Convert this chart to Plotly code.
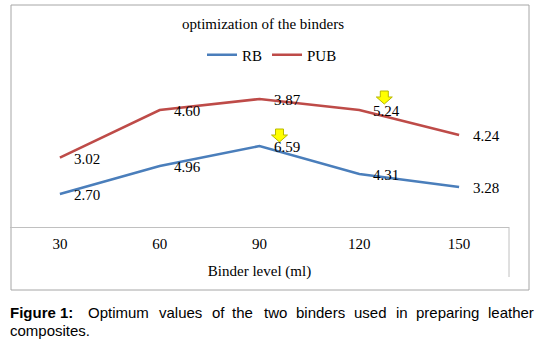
import plotly.graph_objects as go

# ---- data ----
binder_level = [30, 60, 90, 120, 150]
rb_values = [1.65, 3.05, 4.05, 2.65, 2.0]
pub_values = [3.47, 5.85, 6.4, 5.85, 4.6]
rb_labels = ["2.70", "4.96", "6.59", "4.31", "3.28"]
pub_labels = ["3.02", "4.60", "3.87", "5.24", "4.24"]
rb_optimum_index = 2
pub_optimum_index = 3

W, H = 537, 342
PLOT_L, PLOT_R, PLOT_T, PLOT_B = 10, 509, 70, 227   # reference pixels
ML, MR, MT, MB = PLOT_L, W - PLOT_R, PLOT_T, H - PLOT_B
PW, PH = W - ML - MR, H - MT - MB

def px(x):
    return (x - PLOT_L) / PW

def py(y):
    return (PLOT_B - y) / PH

SERIF = "Times New Roman, Liberation Serif, serif"
SANS = "Arial, Liberation Sans, sans-serif"
BLUE = "#4a7ebb"
RED = "#be4b48"

fig = go.Figure()
fig.add_trace(go.Scatter(x=binder_level, y=rb_values, mode="lines", name="RB",
                         line=dict(color=BLUE, width=2.6)))
fig.add_trace(go.Scatter(x=binder_level, y=pub_values, mode="lines", name="PUB",
                         line=dict(color=RED, width=2.6)))

annotations = []
for xs, ys, labs in ((binder_level, rb_values, rb_labels), (binder_level, pub_values, pub_labels)):
    for xv, yv, t in zip(xs, ys, labs):
        annotations.append(dict(x=xv, y=yv, text=t, showarrow=False, xanchor="left",
                                yanchor="middle", xshift=12, yshift=-1,
                                font=dict(family=SERIF, size=15, color="black")))

# caption (justified first line, word by word)
line1 = [("<b>Figure</b>", 8), ("<b>1:</b>", 58), ("Optimum", 86), ("values", 157), ("of", 210),
         ("the", 230), ("two", 262), ("binders", 294), ("used", 352), ("in", 394),
         ("preparing", 414), ("leather", 486)]
for word, xp in line1:
    annotations.append(dict(x=px(xp), y=py(312), xref="paper", yref="paper", text=word,
                            showarrow=False, xanchor="left", yanchor="middle",
                            font=dict(family=SANS, size=15, color="black")))
annotations.append(dict(x=px(8), y=py(330), xref="paper", yref="paper", text="composites.",
                        showarrow=False, xanchor="left", yanchor="middle",
                        font=dict(family=SANS, size=15, color="black")))

def arrow_path(dx, tip):
    # pixel offsets relative to the anchor point (y up)
    pts = [(dx - 4, tip + 13), (dx + 4, tip + 13), (dx + 4, tip + 7), (dx + 8, tip + 7),
           (dx, tip), (dx - 8, tip + 7), (dx - 4, tip + 7)]
    return "M" + " L".join(f"{a},{b}" for a, b in pts) + " Z"

shapes = [
    dict(type="rect", xref="paper", yref="paper", x0=px(11), x1=px(529), y0=py(290), y1=py(5),
         line=dict(color="#a6a6a6", width=1), layer="below"),
    dict(type="line", xref="paper", yref="paper", x0=1, x1=1, y0=py(227), y1=py(277),
         line=dict(color="#c0c0c0", width=1)),
]
for idx, series, dx, tip in ((rb_optimum_index, rb_values, 20, 4), (pub_optimum_index, pub_values, 25, 6)):
    shapes.append(dict(type="path", xref="x", yref="y", xsizemode="pixel", ysizemode="pixel",
                       xanchor=binder_level[idx], yanchor=series[idx], path=arrow_path(dx, tip),
                       fillcolor="#ffff00", line=dict(color="#b8b800", width=1)))

fig.update_layout(
    width=W, height=H,
    margin=dict(l=ML, r=MR, t=MT, b=MB),
    paper_bgcolor="white", plot_bgcolor="white",
    title=dict(text="optimization of the binders", x=263 / W, xref="container",
               xanchor="center", y=1 - 24 / H, yref="container", yanchor="middle",
               font=dict(family=SERIF, size=15, color="black")),
    showlegend=True,
    legend=dict(orientation="h", x=px(272), xanchor="center", y=py(55), yanchor="middle",
                font=dict(family=SERIF, size=15, color="black"), bgcolor="rgba(0,0,0,0)",
                itemwidth=30),
    xaxis=dict(range=[15, 165], tickvals=binder_level, ticktext=[str(v) for v in binder_level],
               showgrid=False, zeroline=False, showline=True, linecolor="#c0c0c0", linewidth=1,
               ticks="", ticklabelstandoff=3, tickfont=dict(family=SERIF, size=15, color="black"),
               title=dict(text="Binder level (ml)", standoff=14,
                          font=dict(family=SERIF, size=15, color="black"))),
    yaxis=dict(range=[0, PH / 20], visible=False, showgrid=False, zeroline=False),
    annotations=annotations,
    shapes=shapes,
)

fig.write_html("out.html", config={"displayModeBar": False},
               post_script="document.body.style.margin='0';document.body.style.overflow='hidden';")
